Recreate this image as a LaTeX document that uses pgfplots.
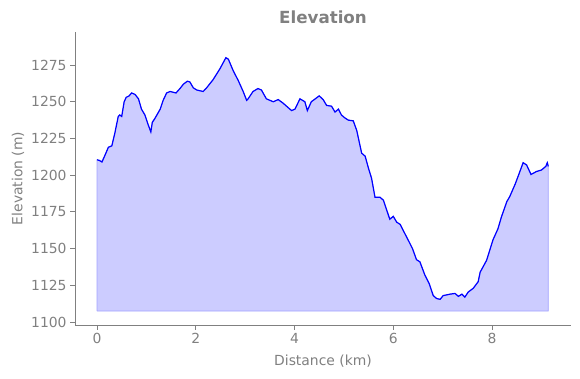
\documentclass[border=0pt]{standalone}
\usepackage{fontspec}
\setmainfont{DejaVu Sans}
\usepackage{pgfplots}
\usepackage{pgfplotstable}
\pgfplotsset{compat=1.18}
\definecolor{mgray}{RGB}{128,128,128}
\definecolor{fillc}{RGB}{204,204,255}
\definecolor{edgec}{RGB}{163,163,255}
\pgfplotstableread{
x y
0.00 1210.5
0.05 1210
0.10 1209
0.16 1213.5
0.23 1219
0.30 1220
0.36 1228.5
0.43 1240
0.46 1241
0.50 1240
0.55 1250
0.59 1253
0.65 1254
0.70 1256
0.77 1255
0.84 1252
0.90 1245
0.97 1241
1.04 1234
1.09 1229.5
1.12 1236
1.17 1238.5
1.28 1245
1.34 1251
1.41 1256
1.48 1257
1.60 1256
1.68 1259
1.75 1262
1.83 1264
1.88 1263.5
1.95 1259.5
2.02 1258
2.15 1257
2.22 1259.5
2.35 1265
2.49 1272.5
2.61 1280
2.66 1279
2.76 1271
2.86 1264.5
2.96 1257
3.03 1251
3.06 1252
3.16 1257
3.26 1259
3.33 1258
3.43 1252
3.57 1250
3.67 1251.5
3.77 1249
3.94 1244
4.01 1245
4.11 1252
4.21 1250
4.26 1244
4.34 1250
4.50 1254
4.58 1251.5
4.65 1247.5
4.75 1247
4.82 1243
4.89 1245
4.95 1241
5.02 1239
5.09 1237.5
5.19 1237
5.26 1230.5
5.36 1215
5.43 1213
5.50 1204.5
5.56 1198
5.63 1185
5.73 1185
5.80 1183
5.87 1176
5.93 1170
6.00 1172
6.07 1168
6.14 1166.5
6.20 1162.5
6.30 1156
6.39 1150
6.47 1142.5
6.54 1141
6.64 1132
6.73 1126
6.81 1118
6.88 1116
6.95 1115.5
7.01 1118
7.15 1119
7.25 1119.5
7.32 1117.5
7.39 1119
7.45 1117
7.52 1120.5
7.62 1123
7.72 1127.5
7.76 1134
7.89 1142
8.02 1156
8.12 1163.5
8.19 1171.5
8.30 1182
8.36 1185.5
8.47 1194
8.57 1203
8.63 1208.5
8.70 1207
8.79 1200.5
8.90 1202.5
9.00 1203.5
9.09 1206
9.12 1208.5
9.14 1206
}\elev
\pgfplotstableread{
x y
0.00 1107.5
0.00 1210.5
0.05 1210
0.10 1209
0.16 1213.5
0.23 1219
0.30 1220
0.36 1228.5
0.43 1240
0.46 1241
0.50 1240
0.55 1250
0.59 1253
0.65 1254
0.70 1256
0.77 1255
0.84 1252
0.90 1245
0.97 1241
1.04 1234
1.09 1229.5
1.12 1236
1.17 1238.5
1.28 1245
1.34 1251
1.41 1256
1.48 1257
1.60 1256
1.68 1259
1.75 1262
1.83 1264
1.88 1263.5
1.95 1259.5
2.02 1258
2.15 1257
2.22 1259.5
2.35 1265
2.49 1272.5
2.61 1280
2.66 1279
2.76 1271
2.86 1264.5
2.96 1257
3.03 1251
3.06 1252
3.16 1257
3.26 1259
3.33 1258
3.43 1252
3.57 1250
3.67 1251.5
3.77 1249
3.94 1244
4.01 1245
4.11 1252
4.21 1250
4.26 1244
4.34 1250
4.50 1254
4.58 1251.5
4.65 1247.5
4.75 1247
4.82 1243
4.89 1245
4.95 1241
5.02 1239
5.09 1237.5
5.19 1237
5.26 1230.5
5.36 1215
5.43 1213
5.50 1204.5
5.56 1198
5.63 1185
5.73 1185
5.80 1183
5.87 1176
5.93 1170
6.00 1172
6.07 1168
6.14 1166.5
6.20 1162.5
6.30 1156
6.39 1150
6.47 1142.5
6.54 1141
6.64 1132
6.73 1126
6.81 1118
6.88 1116
6.95 1115.5
7.01 1118
7.15 1119
7.25 1119.5
7.32 1117.5
7.39 1119
7.45 1117
7.52 1120.5
7.62 1123
7.72 1127.5
7.76 1134
7.89 1142
8.02 1156
8.12 1163.5
8.19 1171.5
8.30 1182
8.36 1185.5
8.47 1194
8.57 1203
8.63 1208.5
8.70 1207
8.79 1200.5
8.90 1202.5
9.00 1203.5
9.09 1206
9.12 1208.5
9.14 1206
9.14 1107.5
0.00 1107.5
}\area
\begin{document}
\begin{tikzpicture}
\useasboundingbox (-75pt,-53pt) rectangle (505pt,325pt);
\begin{axis}[
 at={(0,0)}, anchor=south west,
 scale only axis, width=496pt, height=293pt,
 xmin=-0.446, xmax=9.6, ymin=1098, ymax=1297.5,
 axis x line*=bottom, axis y line*=left,
 axis line style={mgray, line width=0.9pt, -},
 xtick={0,2,4,6,8}, ytick={1100,1125,...,1275},
 tick align=outside, major tick length=4.9pt,
 tick style={mgray, line width=0.9pt},
 tick label style={font=\fontsize{13.9}{16}\selectfont, text=mgray},
 /pgf/number format/assume math mode=true,
 /pgf/number format/set thousands separator={},
 xlabel={Distance (km)}, ylabel={Elevation (m)},
 label style={font=\fontsize{13.9}{16}\selectfont, text=mgray},
 xlabel style={yshift=-4pt},
 title={Elevation},
 title style={font=\fontsize{16.7}{19}\selectfont\bfseries, text=mgray, yshift=-1.5pt},
]
\addplot[fill=fillc, draw=edgec, line width=0.8pt] table {\area};
\addplot[blue, line width=1.2pt] table {\elev};
\end{axis}
\end{tikzpicture}
\end{document}
